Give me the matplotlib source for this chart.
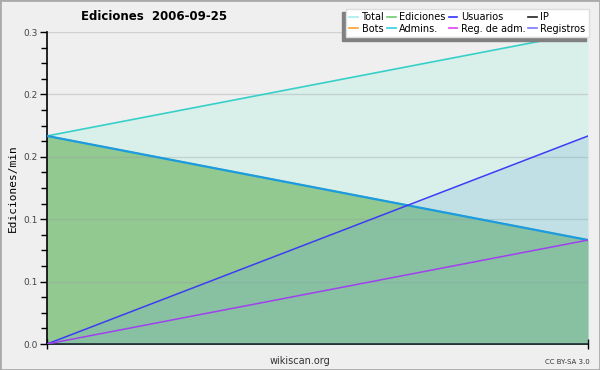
import matplotlib
matplotlib.use("Agg")
import matplotlib.pyplot as plt
from matplotlib.lines import Line2D
from matplotlib.ticker import FixedLocator, MultipleLocator
from matplotlib.patches import Rectangle

# Data (edits per minute)
x = [0, 1]
total = [0.1667, 0.25]
ediciones = [0.1667, 0.0833]
admins = [0.1667, 0.0833]
usuarios = [0.0, 0.1667]
reg_adm = [0.0, 0.0833]

yticks = [0.0, 0.05, 0.10, 0.15, 0.20, 0.25]
yticklabels = ["0.0", "0.1", "0.1", "0.2", "0.2", "0.3"]

legend_names = ["Total", "Bots", "Ediciones", "Admins.", "Usuarios", "Reg. de adm.", "IP", "Registros"]
legend_colors = ["#a8ecec", "#ffa030", "#70cc70", "#30d0e0", "#3333ff", "#e040f0", "#222222", "#7878ff"]

title = "Ediciones  2006-09-25"
ylabel = "Ediciones/min"

fig = plt.figure(figsize=(6, 3.7), dpi=100, facecolor="#efefef")
ax = fig.add_axes([47/600, 26/370, (588-47)/600, (344-32)/370])
ax.set_facecolor("#efeff0")

ax.fill_between(x, 0, total, color="#d9f0ea", zorder=1, lw=0)
ax.fill_between(x, 0, ediciones, color="#91c991", zorder=2, lw=0)
ax.fill_between(x, 0, usuarios, color="#6aa8dc", alpha=0.22, zorder=3, lw=0)

ax.plot(x, total, color="#36d0c8", lw=1.2, zorder=5)
ax.plot(x, ediciones, color="#70cc70", lw=1.2, zorder=5)
ax.plot(x, admins, color="#1e9be0", lw=1.6, zorder=6)
ax.plot(x, usuarios, color="#3c3cf5", lw=1.1, zorder=6)
ax.plot(x, reg_adm, color="#a040f0", lw=1.1, zorder=6)

ax.set_xlim(0, 1)
ax.set_ylim(0, 0.25)
ax.yaxis.set_major_locator(FixedLocator(yticks))
ax.set_yticklabels(yticklabels)
ax.yaxis.set_minor_locator(MultipleLocator(0.0125))
ax.tick_params(axis="y", which="major", length=5, width=1, labelsize=6.5, labelcolor="#444444", pad=2)
ax.tick_params(axis="y", which="minor", length=4, width=1)
ax.set_xticks([0, 1])
ax.set_xticklabels([])
ax.tick_params(axis="x", direction="inout", length=7, width=1)
ax.grid(axis="y", which="major", color="#999999", alpha=0.35, lw=1, zorder=4)
ax.set_axisbelow(False)
for s in ["top", "right"]:
    ax.spines[s].set_visible(False)
for s in ["left", "bottom"]:
    ax.spines[s].set_linewidth(1.2)

fig.text(13/600, 1 - 188/370, ylabel, family="DejaVu Sans Mono", fontsize=8,
         rotation=90, ha="center", va="center")
fig.text(154/600, 1 - 17/370, title, ha="center", va="center", fontsize=8.5, fontweight="bold")
fig.text(300/600, 1 - 361/370, "wikiscan.org", ha="center", va="center", fontsize=7, color="#333333")
fig.text(590/600, 1 - 362/370, "CC BY-SA 3.0", ha="right", va="center", fontsize=5, color="#333333")

handles = [Line2D([], [], color=c, lw=1.2) for c in legend_colors]
leg = fig.legend(handles, legend_names, ncol=4, loc="upper right",
                 bbox_to_anchor=(589/600, 1 - 9/370), fontsize=7,
                 handlelength=0.9, handletextpad=0.35, columnspacing=0.3,
                 labelspacing=0.15, borderpad=0.35, borderaxespad=0.0, frameon=True,
                 fancybox=False, edgecolor="#dddddd", facecolor="white", framealpha=1,
                 shadow={"ox": -2.5, "oy": -2.5, "color": "#808080", "alpha": 1})

fig.add_artist(Rectangle((0, 0), 1, 1, transform=fig.transFigure, fill=False,
                         edgecolor="#aaaaaa", lw=2))
fig.savefig("out.png", dpi=100, facecolor=fig.get_facecolor())
